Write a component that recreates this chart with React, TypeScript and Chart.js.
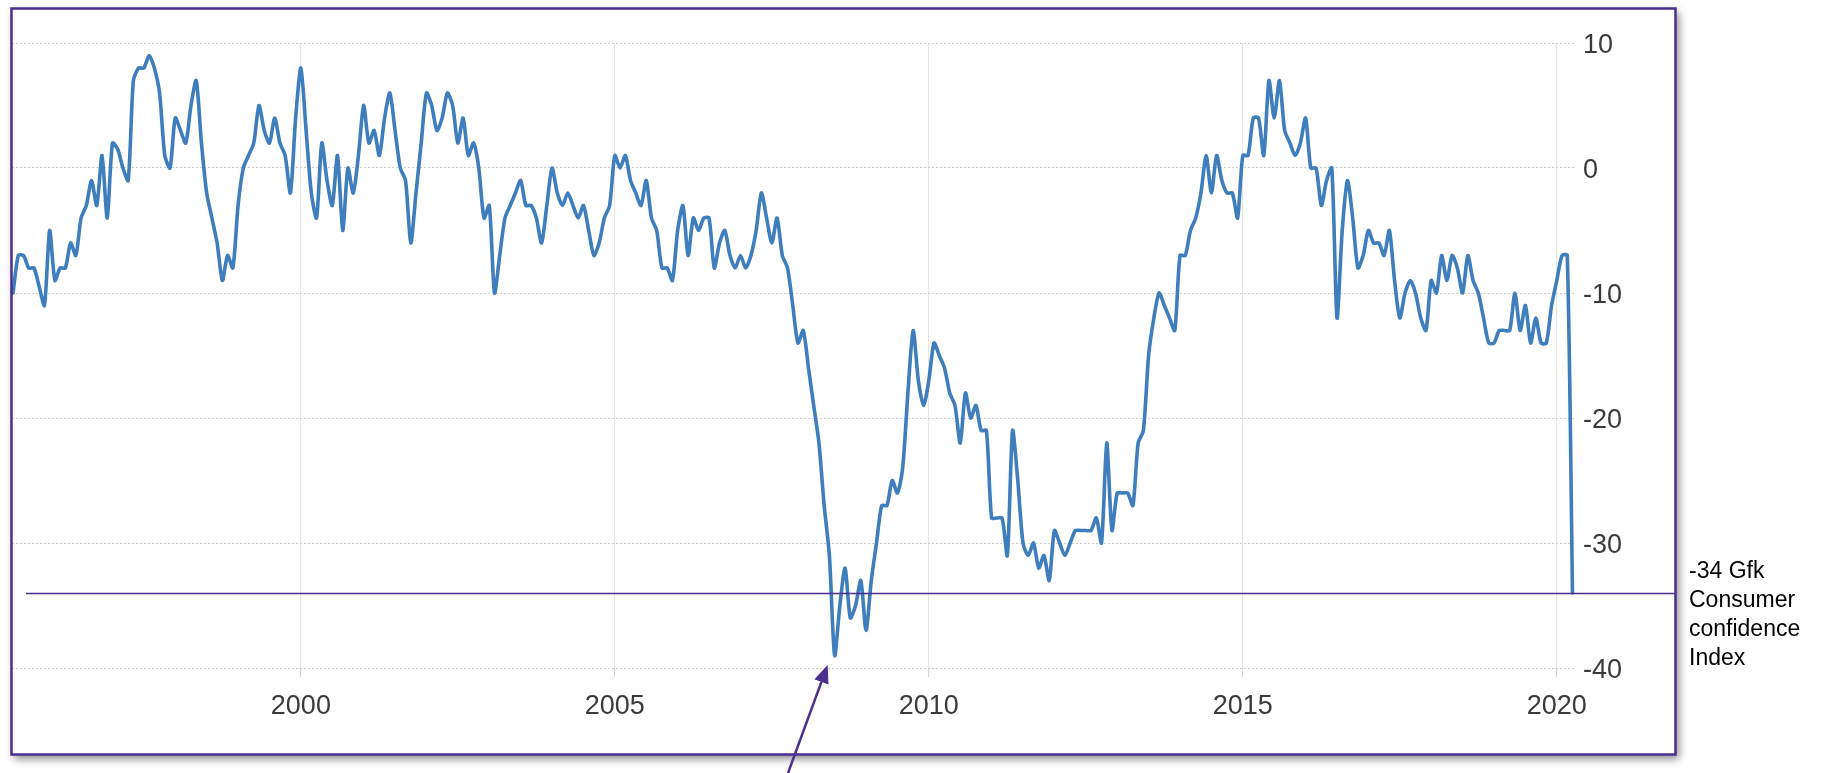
import { useEffect, useRef } from "react";
import { Chart, registerables } from "chart.js";

Chart.register(...registerables);

// Monthly GfK consumer confidence, starting June 1995
const START_YEAR = 1995;
const START_MONTH = 6;

const values1995to1999 = [
  -10, -7, -7, -8, -8, -9.5, -11, -5, -9, -8,
  -8, -6, -7, -4, -3, -1, -3, 1, -4, 2,
  1.5, 0, -1, 7, 8, 8, 9, 8, 6, 1,
  0, 4, 3, 2, 5, 7, 2, -2, -4, -6,
  -9, -7, -8, -3, 0, 1, 2, 5, 3, 2,
  4, 2, 1, -2, 4,
];
const values2000to2004 = [
  8, 3, -2, -4, 2, -1, -3, 1, -5, 0,
  -2, 1, 5, 2, 3, 1, 4, 6, 3, 0,
  -1, -6, -2, 2, 6, 5, 3, 4, 6, 5,
  2, 4, 1, 2, 0, -4, -3, -10, -7, -4,
  -3, -2, -1, -3, -3, -4, -6, -3, 0, -2,
  -3, -2, -3, -4, -3, -5, -7, -6, -4, -3,
];
const values2005to2009 = [
  1, 0, 1, -1, -2, -3, -1, -4, -5, -8,
  -8, -9, -5, -3, -7, -4, -5, -4, -4, -8,
  -6, -5, -7, -8, -7, -8, -7, -5, -2, -4,
  -6, -4, -7, -8, -11, -14, -13, -16, -19, -22,
  -27, -31, -39, -35, -32, -36, -35, -33, -37, -33,
  -30, -27, -27, -25, -26, -24, -18, -13, -17, -19,
];
const values2010to2014 = [
  -17, -14, -15, -16, -18, -19, -22, -18, -20, -19,
  -21, -21, -28, -28, -28, -31, -21, -25, -30, -31,
  -30, -32, -31, -33, -29, -30, -31, -30, -29, -29,
  -29, -29, -28, -30, -22, -29, -26, -26, -26, -27,
  -22, -21, -15, -12, -10, -11, -12, -13, -7, -7,
  -5, -4, -2, 1, -2, 1, -1, -2, -2, -4,
];
const values2015to2020 = [
  1, 1, 4, 4, 1, 7, 4, 7, 3, 2,
  1, 2, 4, 0, 0, -3, -1, 0, -12, -5,
  -1, -4, -8, -7, -5, -6, -6, -7, -5, -9,
  -12, -10, -9, -10, -12, -13, -9, -10, -7, -9,
  -7, -8, -10, -7, -9, -10, -12, -14, -14, -13,
  -13, -13, -10, -13, -11, -14, -12, -14, -14, -11,
  -9, -7, -7, -34,
];

const yearTicks = [2000, 2005, 2010, 2015, 2020];
const valueTicks = [-40, -30, -20, -10, 0, 10];
const markerValue = -34;
const markerLabel = ["-34 Gfk", "Consumer", "confidence", "Index"];

const W = 1821;
const H = 773;
const PURPLE = "#4a2f8f";
const FONT = "'Liberation Sans', Arial, Helvetica, sans-serif";

export default function App() {
  const ref = useRef<HTMLCanvasElement | null>(null);

  useEffect(() => {
    if (!ref.current) return;
    const series = [
      ...values1995to1999,
      ...values2000to2004,
      ...values2005to2009,
      ...values2010to2014,
      ...values2015to2020,
    ];
    const points = series.map((v, i) => ({
      x: START_YEAR + (START_MONTH - 1 + i) / 12,
      y: v,
    }));
    const minIndex = series.indexOf(Math.min(...series));

    const framePlugin = {
      id: "frame",
      beforeDraw(chart: any) {
        const ctx = chart.ctx;
        ctx.save();
        ctx.fillStyle = "#ffffff";
        ctx.fillRect(0, 0, W, H);
        ctx.shadowColor = "rgba(0,0,0,0.45)";
        ctx.shadowBlur = 8;
        ctx.shadowOffsetX = 3;
        ctx.shadowOffsetY = 4;
        ctx.fillRect(11, 8, 1665, 747);
        ctx.restore();
      },
      afterDraw(chart: any) {
        const ctx = chart.ctx;
        const xs = chart.scales.x;
        const ys = chart.scales.y;
        ctx.save();
        // frame border
        ctx.strokeStyle = PURPLE;
        ctx.lineWidth = 2.5;
        ctx.strokeRect(11.5, 8.5, 1664, 746);
        // marker line
        const ym = Math.round(ys.getPixelForValue(markerValue)) + 0.5;
        ctx.lineWidth = 1.5;
        ctx.beginPath();
        ctx.moveTo(26, ym);
        ctx.lineTo(1675, ym);
        ctx.stroke();
        // marker text
        ctx.fillStyle = "#000";
        ctx.font = `23px ${FONT}`;
        ctx.textAlign = "left";
        ctx.textBaseline = "alphabetic";
        markerLabel.forEach((t, i) => {
          ctx.fillText(t, 1689, ym - 16 + i * 29);
        });
        // arrow to the minimum
        const tipX = xs.getPixelForValue(points[minIndex].x) - 7;
        const tipY = ys.getPixelForValue(-40) - 3;
        const tailX = tipX - 44;
        const tailY = tipY + 120;
        const ang = Math.atan2(tipY - tailY, tipX - tailX);
        const len = 18;
        const hw = 7.5;
        const bx = tipX - len * Math.cos(ang);
        const by = tipY - len * Math.sin(ang);
        ctx.strokeStyle = PURPLE;
        ctx.lineWidth = 2.5;
        ctx.beginPath();
        ctx.moveTo(tailX, tailY);
        ctx.lineTo(bx, by);
        ctx.stroke();
        ctx.fillStyle = PURPLE;
        ctx.beginPath();
        ctx.moveTo(tipX, tipY);
        ctx.lineTo(bx + hw * Math.sin(ang), by - hw * Math.cos(ang));
        ctx.lineTo(bx - hw * Math.sin(ang), by + hw * Math.cos(ang));
        ctx.closePath();
        ctx.fill();
        ctx.restore();
      },
    };

    const chart = new Chart(ref.current, {
      type: "line",
      data: {
        datasets: [
          {
            data: points,
            borderColor: "#3f7ebd",
            borderWidth: 3.6,
            pointRadius: 0,
            tension: 0.25,
            borderJoinStyle: "round",
            borderCapStyle: "round",
            fill: false,
          },
        ],
      },
      options: {
        responsive: false,
        animation: false,
        devicePixelRatio: 1,
        layout: { padding: { left: 12, top: 43, right: 186, bottom: 45 } },
        plugins: {
          legend: { display: false },
          tooltip: { enabled: false },
        },
        scales: {
          x: {
            type: "linear",
            min: 1995.4,
            max: 2020.29,
            afterBuildTicks: (s: any) => {
              s.ticks = yearTicks.map((v) => ({ value: v }));
            },
            afterFit: (s: any) => {
              s.height = 60;
            },
            grid: {
              color: "#e4e4e4",
              lineWidth: 1,
              drawTicks: true,
              tickLength: 9,
              tickColor: "#d4d4d4",
            },
            border: { display: false },
            ticks: {
              padding: 13,
              color: "#3a3a3a",
              font: { family: FONT, size: 27 },
              maxRotation: 0,
              autoSkip: false,
              callback: (v: any) => String(v),
            },
          },
          y: {
            position: "right",
            min: -40,
            max: 10,
            afterBuildTicks: (s: any) => {
              s.ticks = valueTicks.map((v) => ({ value: v }));
            },
            afterFit: (s: any) => {
              s.width = 60;
            },
            grid: { color: "#cdcdcd", lineWidth: 1, drawTicks: false },
            border: { display: false, dash: [2, 2] },
            ticks: {
              padding: 8,
              labelOffset: 3,
              color: "#3a3a3a",
              font: { family: FONT, size: 27 },
              callback: (v: any) => String(v),
            },
          },
        },
      },
      plugins: [framePlugin],
    });
    return () => chart.destroy();
  }, []);

  return (
    <div style={{ position: "absolute", left: 0, top: 0, width: W, height: H }}>
      <canvas ref={ref} width={W} height={H} style={{ width: W, height: H, display: "block" }} />
    </div>
  );
}
